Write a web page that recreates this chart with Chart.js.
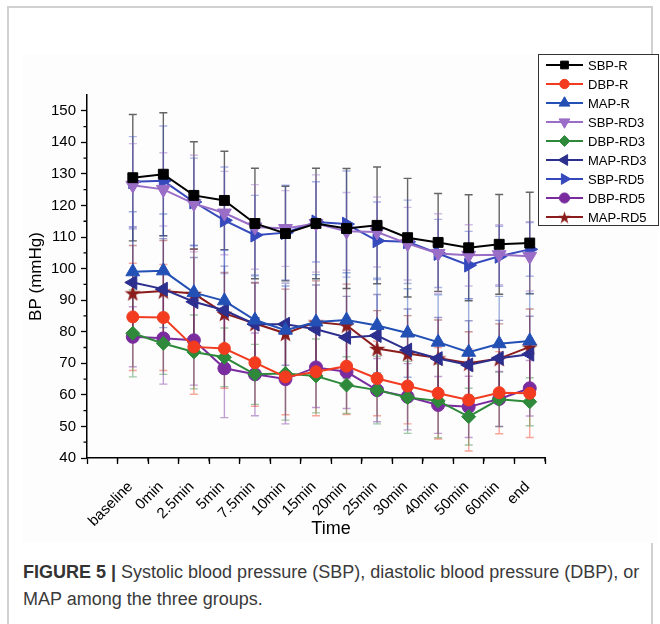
<!DOCTYPE html>
<html>
<head>
<meta charset="utf-8">
<script src="https://cdn.jsdelivr.net/npm/chart.js@4.4.1/dist/chart.umd.min.js"></script>
<style>
  body { margin: 0; background: #fff; width: 660px; height: 624px; overflow: hidden; position: relative; }
  #frame { position: absolute; left: 7px; top: 6px; width: 642px; height: 640px; border: 2px solid #d0d0d0; border-bottom: none; }
  #bg { position: absolute; left: 23px; top: 55px; width: 634px; height: 488px; background: #fdfdfd; }
  #wrap { position: absolute; left: 0; top: 0; width: 660px; height: 544px; }
  #caption { position: absolute; left: 23px; top: 559px; font-family: "Liberation Sans", Arial, sans-serif;
             font-size: 18px; line-height: 27px; color: #3a3a3a; white-space: nowrap; }
  #caption b { color: #333; }
</style>
</head>
<body>
<div id="frame"></div>
<div id="bg"></div>
<div id="wrap"><canvas id="c" width="660" height="544"></canvas></div>
<div id="caption"><b>FIGURE 5 |</b> Systolic blood pressure (SBP), diastolic blood pressure (DBP), or<br>MAP among the three groups.</div>
<script>
// time points on the x axis
var timeLabels = ['baseline', '0min', '2.5min', '5min', '7.5min', '10min', '15min',
                  '20min', '25min', '30min', '40min', '50min', '60min', 'end'];

// means (mmHg)
var sbpR   = [128.8, 129.9, 123.2, 121.6, 114.3, 111.1, 114.3, 112.7, 113.7, 109.8, 108.3, 106.6, 107.7, 108.1];
var dbpR   = [84.7, 84.5, 75.2, 74.7, 70.2, 65.7, 67.3, 69.1, 65.2, 62.8, 60.5, 58.4, 60.7, 60.5];
var mapR   = [99.0, 99.3, 92.4, 89.8, 83.7, 80.5, 83.1, 83.7, 82.0, 79.6, 76.7, 73.5, 76.2, 77.1];
var sbpRD3 = [126.4, 125.1, 120.6, 117.6, 113.2, 112.7, 114.3, 111.8, 111.6, 107.9, 104.8, 104.2, 104.4, 103.9];
var dbpRD3 = [79.5, 76.3, 73.6, 71.9, 66.5, 66.8, 66.0, 63.1, 61.5, 59.2, 58.1, 53.1, 58.6, 57.8];
var mapRD3 = [95.6, 93.5, 89.5, 86.8, 82.4, 82.4, 80.8, 78.2, 78.8, 74.2, 71.5, 69.5, 71.6, 72.9];
var sbpRD5 = [127.5, 127.8, 121.1, 115.3, 110.6, 111.4, 114.8, 114.1, 108.8, 108.5, 104.8, 101.1, 103.9, 106.1];
var dbpRD5 = [78.4, 77.9, 77.3, 68.4, 66.5, 65.0, 68.7, 67.3, 61.5, 59.4, 56.8, 56.2, 58.7, 62.1];
var mapRD5 = [92.3, 92.9, 92.1, 85.8, 82.6, 79.5, 83.1, 82.1, 74.7, 73.1, 71.7, 70.0, 71.5, 75.2];

// standard deviations (error bars), estimated
var sbpRSd   = [20, 19.5, 17, 15.6, 17.5, 15, 17.5, 19, 18.5, 18.8, 15.5, 16.8, 15.8, 16.1];
var dbpRSd   = [17, 16.8, 15, 12.6, 13.8, 12, 13.9, 15.3, 11.8, 12, 14.5, 16.2, 13, 14];
var mapRSd   = [19, 18, 15, 16, 14, 14, 15, 15, 15, 14, 15, 17, 15, 15];
var sbpRD3Sd = [13.2, 11.6, 15.3, 13.2, 13.4, 12, 15.4, 12.3, 11.1, 11.5, 12.6, 9.7, 9.5, 11];
var dbpRD3Sd = [13.8, 9.8, 11.7, 9.3, 9.5, 14.8, 11.7, 9, 10.7, 11.4, 11.7, 9, 8.6, 7.6];
var mapRD3Sd = [17, 16, 14, 14, 13, 13, 14, 13, 13, 13, 13, 14, 12, 12];
var sbpRD5Sd = [14.3, 17.4, 13.9, 16.9, 12.6, 15, 12.7, 16.8, 12.3, 13.2, 10.8, 10.7, 9.5, 8.5];
var dbpRD5Sd = [9.5, 14.5, 14.2, 15.6, 13.1, 14.2, 12.7, 11.6, 10, 10.5, 9, 9.7, 8.7, 8.8];
var mapRD5Sd = [15, 16, 14, 13, 13, 14, 13, 13, 12, 12, 12, 10, 11, 12];

var FONT = '"Liberation Sans", Arial, sans-serif';
Chart.defaults.font.family = FONT;
Chart.defaults.color = '#000';

function rgba(hex, a) {
  var n = parseInt(hex.slice(1), 16);
  return 'rgba(' + (n >> 16) + ',' + ((n >> 8) & 255) + ',' + (n & 255) + ',' + a + ')';
}

function starImage(color, size) {
  var c = document.createElement('canvas');
  c.width = size; c.height = size;
  var g = c.getContext('2d');
  g.fillStyle = color;
  g.beginPath();
  for (var k = 0; k < 10; k++) {
    var r = k % 2 ? size * 0.2 : size / 2;
    var a = -Math.PI / 2 + k * Math.PI / 5;
    g.lineTo(size / 2 + r * Math.cos(a), size / 2 + 1 + r * Math.sin(a));
  }
  g.closePath();
  g.fill();
  return c;
}

function series(label, values, sd, color, style, radius, rotation, errAlpha) {
  return {
    label: label,
    data: values.map(function (v, i) { return {x: i, y: v}; }),
    sd: sd,
    borderColor: color,
    backgroundColor: color,
    pointBackgroundColor: color,
    pointBorderColor: color,
    pointStyle: style,
    pointRadius: radius,
    pointRotation: rotation,
    pointBorderWidth: 1,
    borderWidth: 2,
    tension: 0,
    errColor: rgba(color, errAlpha)
  };
}

var datasets = [
  series('SBP-R',   sbpR,   sbpRSd,   '#000000', 'rect', 7, 0, 0.6),
  series('DBP-R',   dbpR,   dbpRSd,   '#f23b1f', 'circle', 6, 0, 0.45),
  series('MAP-R',   mapR,   mapRSd,   '#2350b5', 'triangle', 8, 0, 0.45),
  series('SBP-RD3', sbpRD3, sbpRD3Sd, '#9a6dc6', 'triangle', 8, 180, 0.45),
  series('DBP-RD3', dbpRD3, dbpRD3Sd, '#2e8a3a', 'rectRot', 7, 0, 0.45),
  series('MAP-RD3', mapRD3, mapRD3Sd, '#2c2f8e', 'triangle', 8, -90, 0.45),
  series('SBP-RD5', sbpRD5, sbpRD5Sd, '#3549bd', 'triangle', 8, 90, 0.4),
  series('DBP-RD5', dbpRD5, dbpRD5Sd, '#7a2c9f', 'circle', 6.5, 0, 0.45),
  series('MAP-RD5', mapRD5, mapRD5Sd, '#8b1c1c', starImage('#8b1c1c', 17), 7, 0, 0.45)
];
datasets[8].legendStyle = starImage('#8b1c1c', 13);

// vertical SD bars with caps, drawn behind the lines
var errorBars = {
  id: 'errorBars',
  beforeDatasetsDraw: function (chart) {
    var ctx = chart.ctx, x = chart.scales.x, y = chart.scales.y;
    chart.data.datasets.forEach(function (ds) {
      ctx.save();
      ctx.strokeStyle = ds.errColor;
      ctx.lineWidth = 1.4;
      ds.data.forEach(function (p, i) {
        var px = x.getPixelForValue(p.x);
        var top = y.getPixelForValue(p.y + ds.sd[i]);
        var bot = y.getPixelForValue(p.y - ds.sd[i]);
        ctx.beginPath();
        ctx.moveTo(px, top); ctx.lineTo(px, bot);
        ctx.moveTo(px - 4, top); ctx.lineTo(px + 4, top);
        ctx.moveTo(px - 4, bot); ctx.lineTo(px + 4, bot);
        ctx.stroke();
      });
      ctx.restore();
    });
  }
};

// short minor ticks half way between the major ones
var minorTicks = {
  id: 'minorTicks',
  afterDraw: function (chart) {
    var ctx = chart.ctx, x = chart.scales.x, y = chart.scales.y, a = chart.chartArea;
    ctx.save();
    ctx.strokeStyle = '#000';
    ctx.lineWidth = 1.3;
    ctx.beginPath();
    for (var v = -0.5; v <= 13.5; v += 1) {
      var px = x.getPixelForValue(v);
      ctx.moveTo(px, a.bottom); ctx.lineTo(px, a.bottom + 3.5);
    }
    for (var w = 45; w < 155; w += 10) {
      var py = y.getPixelForValue(w);
      ctx.moveTo(a.left, py); ctx.lineTo(a.left - 3.5, py);
    }
    ctx.stroke();
    ctx.restore();
  }
};

// boxed legend in the top right corner, line + marker like the original
var boxLegend = {
  id: 'boxLegend',
  afterDraw: function (chart) {
    var ctx = chart.ctx;
    var left = 538, top = 54, w = 120, h = 171, row = 19;
    ctx.save();
    ctx.fillStyle = '#fff';
    ctx.fillRect(left, top, w, h);
    ctx.strokeStyle = '#333';
    ctx.lineWidth = 1;
    ctx.strokeRect(left + 0.5, top + 0.5, w, h);
    chart.data.datasets.forEach(function (ds, i) {
      var cy = top + 11 + i * row;
      ctx.strokeStyle = ds.borderColor;
      ctx.lineWidth = 2;
      ctx.beginPath();
      ctx.moveTo(left + 8, cy); ctx.lineTo(left + 45, cy);
      ctx.stroke();
      ctx.fillStyle = ds.borderColor;
      ctx.lineWidth = 1;
      Chart.helpers.drawPoint(ctx, {
        pointStyle: ds.legendStyle || ds.pointStyle,
        rotation: ds.pointRotation,
        radius: ds.pointRadius * 0.78,
        borderWidth: 1
      }, left + 26.5, cy);
      ctx.fillStyle = '#000';
      ctx.font = '13px ' + FONT;
      ctx.textBaseline = 'middle';
      ctx.textAlign = 'left';
      ctx.fillText(ds.label, left + 50, cy + 1);
    });
    ctx.restore();
  }
};

new Chart(document.getElementById('c'), {
  type: 'line',
  data: {datasets: datasets},
  plugins: [errorBars, minorTicks, boxLegend],
  options: {
    responsive: false,
    animation: false,
    events: [],
    layout: {padding: {left: 22, top: 95, right: 115, bottom: 0}},
    plugins: {legend: {display: false}, tooltip: {enabled: false}},
    scales: {
      x: {
        type: 'linear',
        min: -1.5,
        max: 13.5,
        grid: {drawOnChartArea: false, tickLength: 6, tickColor: '#000', tickWidth: 1.3},
        border: {color: '#000', width: 1.5},
        ticks: {
          stepSize: 1,
          includeBounds: false,
          autoSkip: false,
          minRotation: 45,
          maxRotation: 45,
          padding: 14,
          labelOffset: 13,
          color: '#000',
          font: {size: 15},
          callback: function (v) { return timeLabels[Math.round(v)] || ''; }
        },
        // leading spaces push the title a little right, as in the original
        title: {display: true, text: '      Time', color: '#000', font: {size: 18}},
        afterFit: function (s) { s.height = 86; }
      },
      y: {
        min: 40,
        max: 155,
        grid: {drawOnChartArea: false, tickLength: 6, tickColor: '#000', tickWidth: 1.3},
        border: {color: '#000', width: 1.5},
        ticks: {stepSize: 10, includeBounds: false, padding: 5, color: '#000', font: {size: 15}},
        title: {display: true, text: 'BP (mmHg)', color: '#000', font: {size: 17}},
        afterFit: function (s) { s.width = 65; }
      }
    }
  }
});
</script>
</body>
</html>
